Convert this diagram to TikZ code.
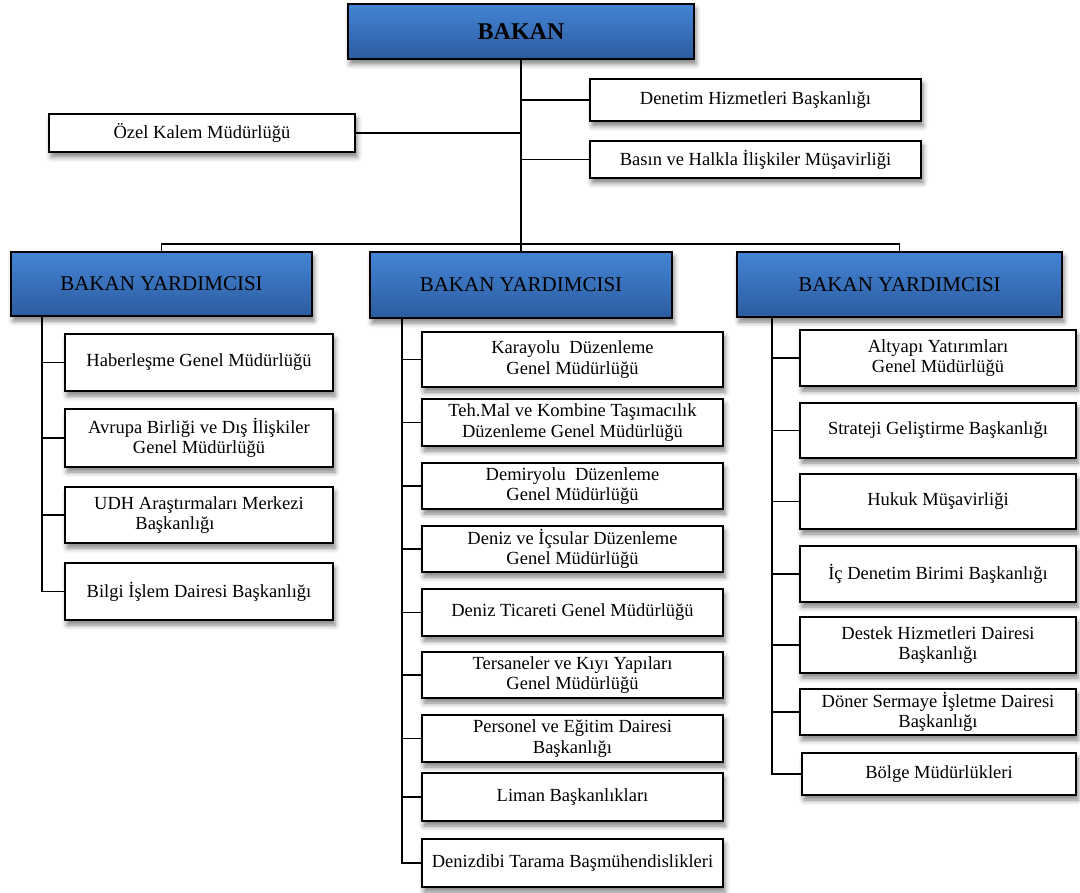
\documentclass[tikz,border=0pt]{standalone}
\usepackage{fontspec}
\setmainfont{Liberation Serif}
\usetikzlibrary{shadows.blur}

\definecolor{headtop}{RGB}{68,132,212}
\definecolor{headbot}{RGB}{44,92,160}

\tikzset{
  unit/.style={draw=black, line width=1.7pt, fill=white, align=center,
    inner sep=0pt, font=\fontsize{18.5}{20.5}\selectfont,
    blur shadow={shadow xshift=2pt, shadow yshift=-5pt,
      shadow blur radius=5pt, shadow opacity=50}},
  head/.style={unit, top color=headtop, bottom color=headbot,
    font=\fontsize{21}{23}\selectfont},
  link/.style={draw=black, line width=1.8pt},
}

% \orgbox{style}{name}{left}{top}{right}{bottom}{text}
\newcommand\orgbox[7]{%
  \node[#1, minimum width={#5pt-#3pt}, minimum height={#6pt-#4pt}]
    (#2) at ({(#3+#5)/2},{(#4+#6)/2}) {#7};}

\begin{document}
\begin{tikzpicture}[x=1pt, y=-1pt]
\useasboundingbox (0,0) rectangle (1080,893);

% minister and staff units
\orgbox{head}{bakan}{348}{4}{694}{59}{\fontsize{24}{26}\selectfont\bfseries BAKAN}
\orgbox{unit}{ozel}{49}{114}{355}{152}{Özel Kalem Müdürlüğü}
\orgbox{unit}{denetim}{590}{79}{921}{121}{Denetim Hizmetleri Başkanlığı}
\orgbox{unit}{basin}{590}{141}{921}{178}{Basın ve Halkla İlişkiler Müşavirliği}

% deputy ministers
\orgbox{head}{byl}{11}{252}{312}{316}{BAKAN YARDIMCISI}
\orgbox{head}{bym}{370}{252}{672}{318}{BAKAN YARDIMCISI}
\orgbox{head}{byr}{737}{252}{1062}{317}{BAKAN YARDIMCISI}

% left branch
\orgbox{unit}{l1}{65}{334}{333}{391}{Haberleşme Genel Müdürlüğü}
\orgbox{unit}{l2}{65}{409}{333}{467}{Avrupa Birliği ve Dış İlişkiler\\Genel Müdürlüğü}
\orgbox{unit}{l3}{65}{487}{333}{543}{UDH Araştırmaları Merkezi\\Başkanlığı\hspace*{48pt}}
\orgbox{unit}{l4}{65}{563}{333}{620}{Bilgi İşlem Dairesi Başkanlığı}

% middle branch
\orgbox{unit}{m1}{422}{332}{723}{387}{Karayolu\ \ Düzenleme\\Genel Müdürlüğü}
\orgbox{unit}{m2}{422}{399}{723}{446}{Teh.Mal ve Kombine Taşımacılık\\Düzenleme Genel Müdürlüğü}
\orgbox{unit}{m3}{422}{463}{723}{509}{Demiryolu\ \ Düzenleme\\Genel Müdürlüğü}
\orgbox{unit}{m4}{422}{526}{723}{572}{Deniz ve İçsular Düzenleme\\Genel Müdürlüğü}
\orgbox{unit}{m5}{422}{589}{723}{636}{Deniz Ticareti Genel Müdürlüğü}
\orgbox{unit}{m6}{422}{652}{723}{698}{Tersaneler ve Kıyı Yapıları\\Genel Müdürlüğü}
\orgbox{unit}{m7}{422}{715}{723}{762}{Personel ve Eğitim Dairesi\\Başkanlığı}
\orgbox{unit}{m8}{422}{773}{723}{821}{Liman Başkanlıkları}
\orgbox{unit}{m9}{422}{839}{723}{887}{Denizdibi Tarama Başmühendislikleri}

% right branch
\orgbox{unit}{r1}{800}{330}{1076}{386}{Altyapı Yatırımları\\Genel Müdürlüğü}
\orgbox{unit}{r2}{800}{403}{1076}{458}{Strateji Geliştirme Başkanlığı}
\orgbox{unit}{r3}{800}{474}{1076}{529}{Hukuk Müşavirliği}
\orgbox{unit}{r4}{800}{546}{1076}{602}{İç Denetim Birimi Başkanlığı}
\orgbox{unit}{r5}{800}{617}{1076}{673}{Destek Hizmetleri Dairesi\\Başkanlığı}
\orgbox{unit}{r6}{800}{689}{1076}{735}{Döner Sermaye İşletme Dairesi\\Başkanlığı}
\orgbox{unit}{r7}{802}{753}{1076}{795}{Bölge Müdürlükleri}

% spines and bus
\coordinate (bus) at (521,244);
\coordinate (lsp) at (42,0);
\coordinate (msp) at (402,0);
\coordinate (rsp) at (772,0);

\draw[link] (bakan.south) -- (bym.north);
\draw[link] (ozel.east) -- (ozel.east -| bakan.south);
\draw[link] (bakan.south |- denetim.west) -- (denetim.west);
\draw[link] (bakan.south |- basin.west) -- (basin.west);
\draw[link] (byl.north) -- (byl.north |- bus) -- (byr.north |- bus) -- (byr.north);

\draw[link] (lsp |- byl.south) -- (lsp |- l4.west) -- (l4.west);
\foreach \n in {l1,l2,l3} \draw[link] (lsp |- \n.west) -- (\n.west);

\draw[link] (msp |- bym.south) -- (msp |- m9.west) -- (m9.west);
\foreach \n in {m1,m2,m3,m4,m5,m6,m7,m8} \draw[link] (msp |- \n.west) -- (\n.west);

\draw[link] (rsp |- byr.south) -- (rsp |- r7.west) -- (r7.west);
\foreach \n in {r1,r2,r3,r4,r5,r6} \draw[link] (rsp |- \n.west) -- (\n.west);
\end{tikzpicture}
\end{document}
